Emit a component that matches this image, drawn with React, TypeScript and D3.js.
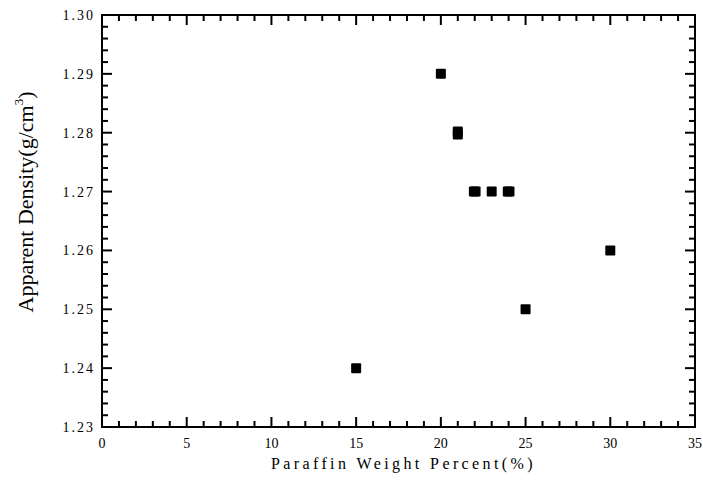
import React from "react";
import * as d3 from "d3";

// paraffin weight percent vs apparent density
const paraffin = [15, 20, 21, 21, 21.95, 22.05, 23, 23.95, 24.05, 25, 30];
const density = [1.24, 1.29, 1.2802, 1.2797, 1.27, 1.27, 1.27, 1.27, 1.27, 1.25, 1.26];

const xTicks = [0, 5, 10, 15, 20, 25, 30, 35];
const yTicks = [1.23, 1.24, 1.25, 1.26, 1.27, 1.28, 1.29, 1.3];

const width = 703, height = 481;
const margin = { top: 15, right: 8, bottom: 54, left: 102 };
const font = "'Liberation Serif', 'Times New Roman', serif";

const App = () => {
  const x = d3.scaleLinear().domain([0, 35]).range([margin.left, width - margin.right]);
  const y = d3.scaleLinear().domain([1.23, 1.3]).range([height - margin.bottom, margin.top]);

  const [x0, x1] = x.range();
  const [y0, y1] = y.range();
  const major = 10, minor = 6;

  // inward ticks on all four sides: 1 unit on x, 0.002 on y
  const segs: { k: string; a: number; b: number; c: number; d: number }[] = [];
  d3.range(36).forEach(v => {
    const len = v % 5 === 0 ? major : minor;
    segs.push({ k: "b" + v, a: x(v), b: y0, c: x(v), d: y0 - len });
    segs.push({ k: "t" + v, a: x(v), b: y1, c: x(v), d: y1 + len });
  });
  d3.range(36).forEach(i => {
    const v = 1.23 + i * 0.002;
    const len = i % 5 === 0 ? major : minor;
    segs.push({ k: "l" + i, a: x0, b: y(v), c: x0 + len, d: y(v) });
    segs.push({ k: "r" + i, a: x1, b: y(v), c: x1 - len, d: y(v) });
  });

  return (
    <svg width={width} height={height} style={{ position: "absolute", left: 0, top: 0, background: "#fff" }}>
      <rect x={x0} y={y1} width={x1 - x0} height={y0 - y1} fill="none" stroke="#000" strokeWidth={2} />
      {segs.map(s => (
        <line key={s.k} x1={s.a} y1={s.b} x2={s.c} y2={s.d} stroke="#000" strokeWidth={2} />
      ))}

      {xTicks.map(d => (
        <text key={d} x={x(d)} y={y0 + 21} textAnchor="middle"
          style={{ fontFamily: font, fontSize: 14 }}>{d}</text>
      ))}
      {yTicks.map(d => (
        <text key={d} x={x0 - 7} y={y(d) + 5} textAnchor="end"
          style={{ fontFamily: font, fontSize: 14, letterSpacing: 2 }}>{d.toFixed(2)}</text>
      ))}

      {paraffin.map((d, i) => (
        <rect key={i} x={x(d) - 5} y={y(density[i]) - 5} width={10} height={10} rx={1} fill="#000" />
      ))}

      <text x={(x0 + x1) / 2 + 5} y={469} textAnchor="middle"
        style={{ fontFamily: font, fontSize: 16, letterSpacing: 3.4 }}>
        Paraffin Weight Percent(%)
      </text>

      <text transform={`translate(33, 202) rotate(-90)`} textAnchor="middle"
        style={{ fontFamily: font, fontSize: 22 }}>
        <tspan>Apparent Density(g/cm</tspan>
        <tspan dy={-10} style={{ fontSize: 13 }}>3</tspan>
        <tspan dy={10}>)</tspan>
      </text>
    </svg>
  );
};

export default App;
